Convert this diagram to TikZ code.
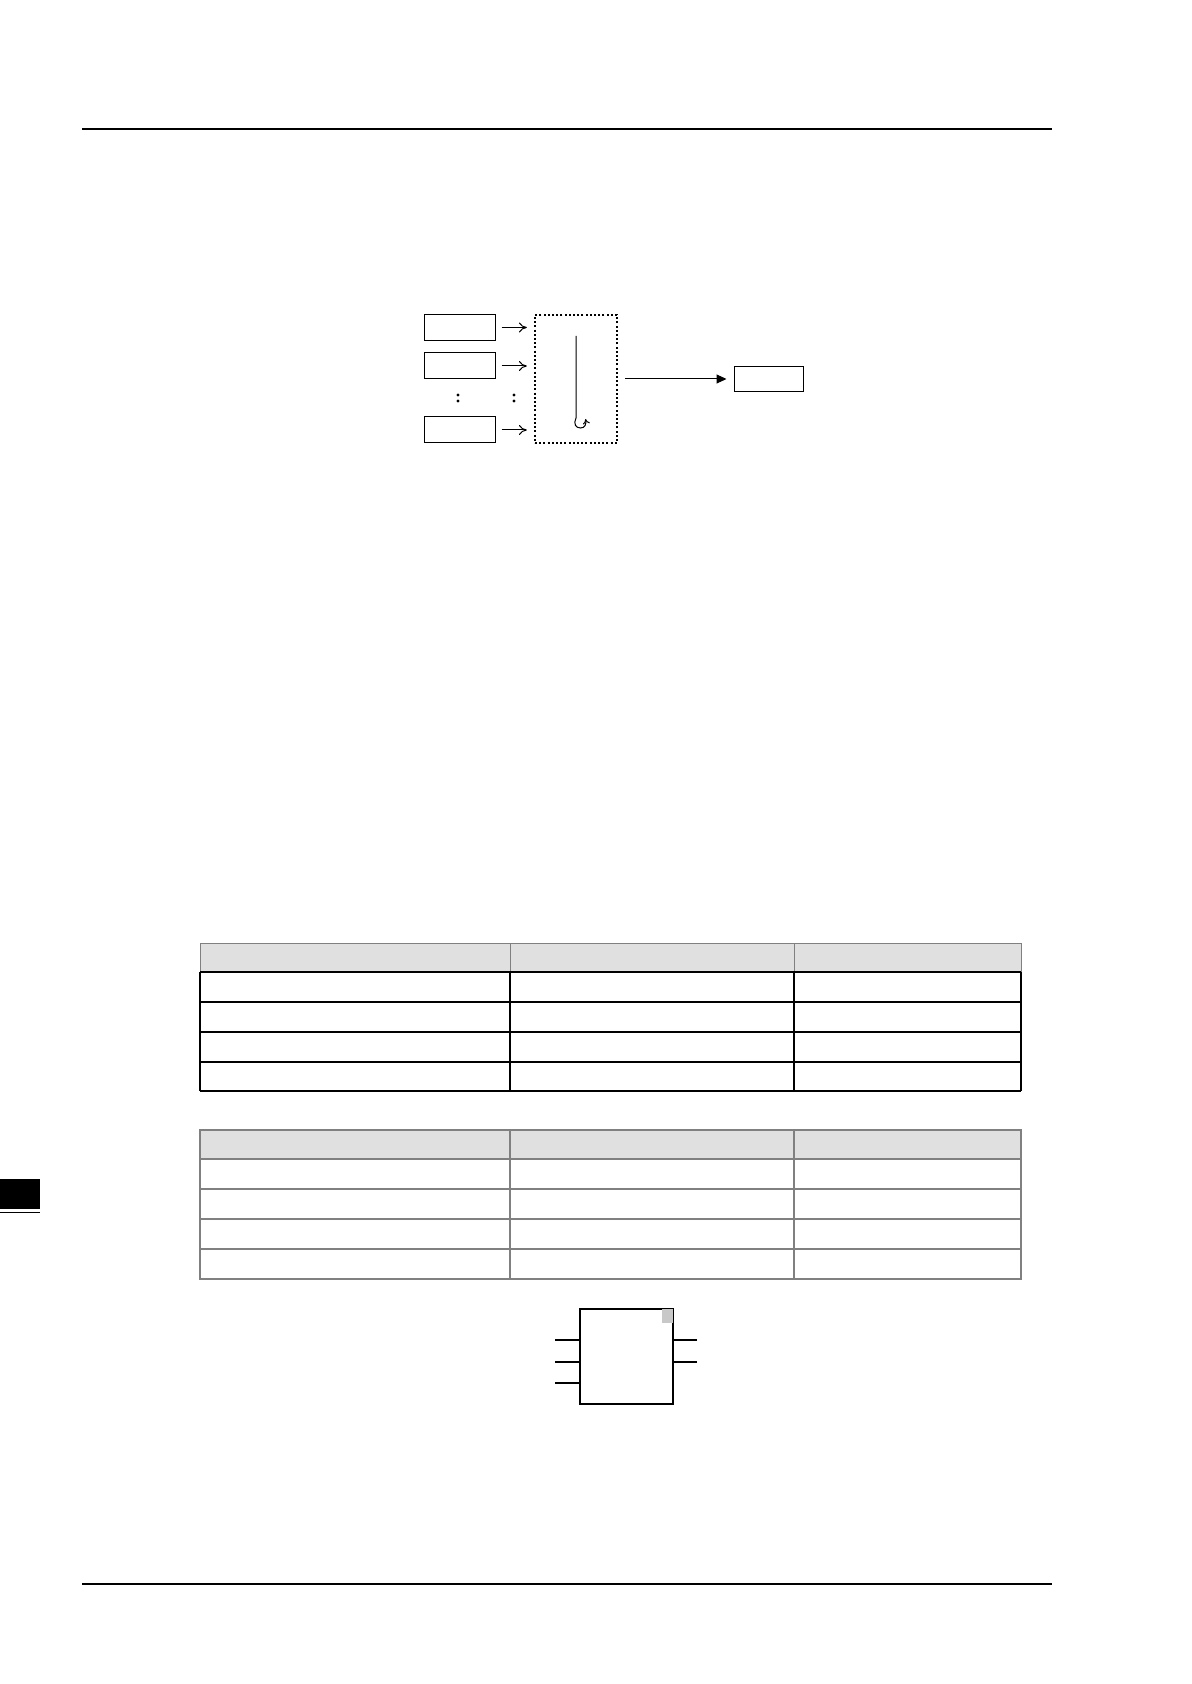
\documentclass[tikz,border=0pt]{standalone}
\usetikzlibrary{arrows.meta}
\definecolor{hdrgray}{HTML}{E0E0E0}
\definecolor{linegray}{HTML}{808080}
\definecolor{cornergray}{HTML}{C8C8C8}
\begin{document}
\begin{tikzpicture}[x=0.5pt,y=-0.5pt,
  inbox/.style={draw,line width=0.5pt,minimum width=35.5pt,minimum height=13pt,inner sep=0pt},
  inarrow/.style={-{To[length=4pt,width=5pt]},line width=0.5pt},
  outarrow/.style={-{Triangle[length=5pt,width=4.5pt]},line width=0.5pt},
  procbox/.style={draw,line width=1.1pt,dash pattern=on 1pt off 1.1pt,minimum width=41pt,minimum height=64pt,inner sep=0pt},
  rule/.style={line width=0.6pt},
  hdr/.style={fill=hdrgray,draw=linegray,line width=0.5pt},
  tblblack/.style={draw=black,line width=0.7pt},
  tblgray/.style={draw=linegray,line width=0.6pt},
  fbox/.style={draw,line width=0.6pt,minimum width=46.5pt,minimum height=47.5pt,inner sep=0pt},
  pin/.style={line width=0.6pt}]
\useasboundingbox (0,0) rectangle (1191,1684);
% page rules
\draw[rule] (82,129) -- (1052,129);
\draw[rule] (82,1584) -- (1052,1584);
% side tab
\fill[black] (0,1179) rectangle (40,1209);
\draw[line width=0.6pt] (0,1212.5) -- (40,1212.5);

% ---- diagram ----
\node[inbox] (in1) at (459.5,327.5) {};
\node[inbox] (in2) at (459.5,366) {};
\node[inbox] (in3) at (459.5,430) {};
\node[procbox] (proc) at (576,379) {};
\node[draw,line width=0.5pt,minimum width=34.5pt,minimum height=12.5pt,inner sep=0pt] (out) at (768.5,379) {};
\draw[inarrow] ([xshift=3pt]in1.east) -- ([xshift=-3.5pt]proc.west |- in1.east);
\draw[inarrow] ([xshift=3pt]in2.east) -- ([xshift=-3.5pt]proc.west |- in2.east);
\draw[inarrow] ([xshift=3pt]in3.east) -- ([xshift=-3.5pt]proc.west |- in3.east);
\draw[outarrow] ([xshift=3.5pt]proc.east) -- ([xshift=-3.5pt]out.west);
% colons
\fill (458,395) circle (0.8pt) (458,401) circle (0.8pt);
\fill (514,395) circle (0.8pt) (514,401) circle (0.8pt);
% flow line inside the block
\coordinate (ftop) at (576,336);
\coordinate (fbot) at (576,418);
\draw[line width=0.5pt,-{To[length=2.5pt,width=3.5pt]}] (ftop) -- (fbot)
  .. controls (573,424) and (576,428) .. (580.5,428)
  .. controls (585,428) and (586.5,424) .. (585.5,419);

% ---- table 1 ----
\fill[hdrgray] (200,943) rectangle (1021,972);
\draw[linegray,line width=0.5pt] (200,943) -- (1021,943);
\draw[linegray,line width=0.5pt] (200,943) -- (200,972) (510,943) -- (510,972) (794,943) -- (794,972) (1021,943) -- (1021,972);
\draw[tblblack] (200,972) -- (1021,972)
  (200,1002) -- (1021,1002)
  (200,1032) -- (1021,1032)
  (200,1062) -- (1021,1062)
  (200,1091) -- (1021,1091);
\draw[tblblack] (200,972) -- (200,1091) (510,972) -- (510,1091) (794,972) -- (794,1091) (1021,972) -- (1021,1091);

% ---- table 2 ----
\fill[hdrgray] (200,1130) rectangle (1021,1159);
\draw[tblgray] (200,1130) rectangle (1021,1279);
\draw[tblgray] (200,1159) -- (1021,1159)
  (200,1189) -- (1021,1189)
  (200,1219) -- (1021,1219)
  (200,1249) -- (1021,1249);
\draw[tblgray] (510,1130) -- (510,1279) (794,1130) -- (794,1279);

% ---- function block ----
\node[fbox] (fb) at (626.5,1356.5) {};
\fill[cornergray] ([xshift=-6pt,yshift=-7.5pt]fb.north east) rectangle (fb.north east);
\draw[fbox] (fb.north west) rectangle (fb.south east);
\coordinate (li1) at (555,1340);
\coordinate (li2) at (555,1362);
\coordinate (li3) at (555,1383);
\coordinate (ro1) at (697,1340);
\coordinate (ro2) at (697,1362);
\draw[pin] (li1) -- (li1 -| fb.west);
\draw[pin] (li2) -- (li2 -| fb.west);
\draw[pin] (li3) -- (li3 -| fb.west);
\draw[pin] (ro1) -- (ro1 -| fb.east);
\draw[pin] (ro2) -- (ro2 -| fb.east);
\end{tikzpicture}
\end{document}
